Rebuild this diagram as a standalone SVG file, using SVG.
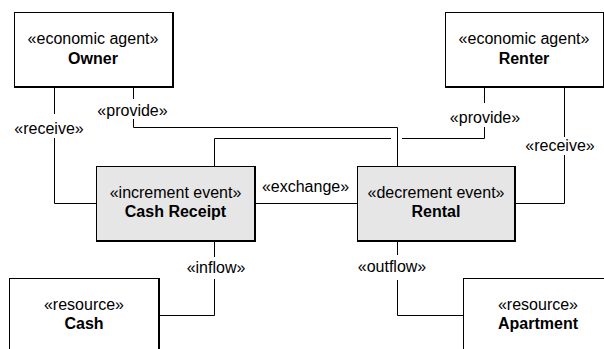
<svg xmlns="http://www.w3.org/2000/svg" width="604" height="349" viewBox="0 0 604 349">
<style>
.box{fill:#fff;stroke:#000;stroke-width:1}
.ev{fill:#e6e6e6;stroke:#000;stroke-width:1}
.sh{fill:none;stroke:#000;stroke-width:2}
.st{font-family:"Liberation Sans",Arial,sans-serif;font-size:16px;text-anchor:middle;fill:#000}
.nm{font-family:"Liberation Sans",Arial,sans-serif;font-size:16px;font-weight:bold;text-anchor:middle;fill:#000}
.ln{fill:none;stroke:#000;stroke-width:1}
.lb{font-family:"Liberation Sans",Arial,sans-serif;font-size:16px;text-anchor:middle;fill:#000}
.bg{fill:#fff}
</style>
<rect width="604" height="349" fill="#fff"/>
<g id="connectors">
<path class="ln" d="M54.5,87 V203.5 H96"/>
<path class="ln" d="M133.5,87 V127.5 H397.5 V166"/>
<path class="ln" d="M484.5,87 V138.5 H402 M391,138.5 H214.5 V166"/>
<path class="ln" d="M564.5,87 V203.5 H514"/>
<path class="ln" d="M254,203.5 H357"/>
<path class="ln" d="M214.5,241 V315.5 H158"/>
<path class="ln" d="M397.5,241 V315.5 H463"/>
<rect class="bg" x="12" y="114" width="76" height="24"/>
<text class="lb" x="49" y="134">«receive»</text>
<rect class="bg" x="96" y="99" width="74" height="20"/>
<text class="lb" x="132.5" y="116">«provide»</text>
<rect class="bg" x="446" y="103" width="78" height="24"/>
<text class="lb" x="485" y="123">«provide»</text>
<rect class="bg" x="522" y="137" width="76" height="18"/>
<text class="lb" x="560" y="151">«receive»</text>
<text class="lb" x="305.5" y="192">«exchange»</text>
<rect class="bg" x="184" y="257" width="64" height="22"/>
<text class="lb" x="216" y="273">«inflow»</text>
<rect class="bg" x="354" y="255" width="78" height="25"/>
<text class="lb" x="392" y="272">«outflow»</text>
</g>
<g id="owner">
<rect class="box" x="14.5" y="12.5" width="158" height="74"/>
<path class="sh" d="M173,12 V87 H14"/>
<text class="st" x="93" y="44">«economic agent»</text>
<text class="nm" x="93" y="64">Owner</text>
</g>
<g id="renter">
<rect class="box" x="445.5" y="12.5" width="158" height="74"/>
<path class="sh" d="M604,12 V87 H445"/>
<text class="st" x="524" y="44">«economic agent»</text>
<text class="nm" x="524" y="64">Renter</text>
</g>
<g id="cash-receipt">
<rect class="ev" x="96.5" y="166.5" width="158" height="74"/>
<path class="sh" d="M255,166 V241 H96"/>
<text class="st" x="175.5" y="198">«increment event»</text>
<text class="nm" x="175.5" y="217">Cash Receipt</text>
</g>
<g id="rental">
<rect class="ev" x="357.5" y="166.5" width="157" height="74"/>
<path class="sh" d="M515,166 V241 H357"/>
<text class="st" x="436" y="198">«decrement event»</text>
<text class="nm" x="436" y="217">Rental</text>
</g>
<g id="cash">
<rect class="box" x="9.5" y="278.5" width="149" height="80"/>
<path class="sh" d="M159,278 V349"/>
<text class="st" x="84" y="310">«resource»</text>
<text class="nm" x="84" y="329">Cash</text>
</g>
<g id="apartment">
<rect class="box" x="463.5" y="278.5" width="150" height="80"/>
<text class="st" x="538" y="310">«resource»</text>
<text class="nm" x="538" y="329">Apartment</text>
</g>
</svg>
